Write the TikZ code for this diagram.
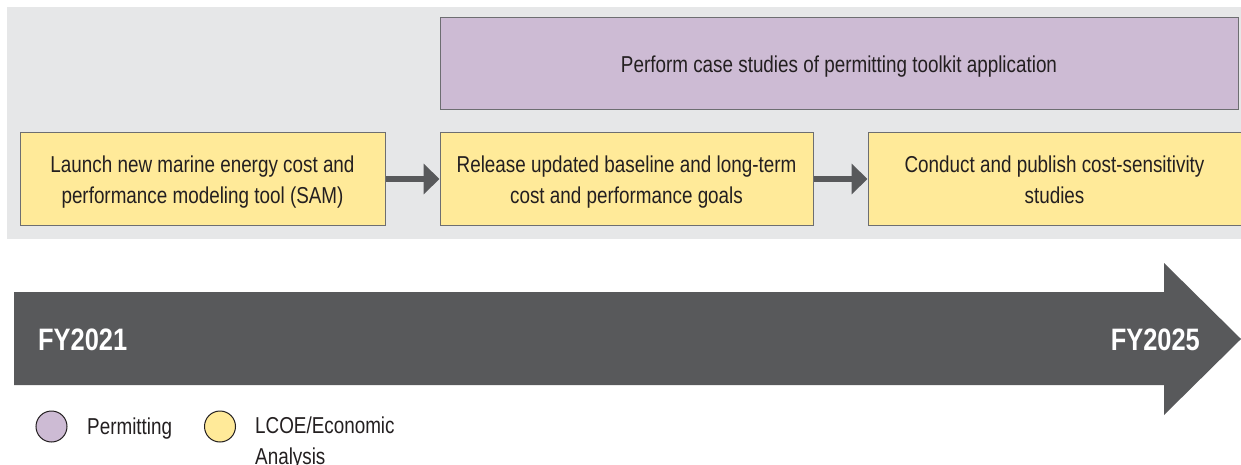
\documentclass[tikz,border=0pt]{standalone}
\usepackage{fontspec}
\setmainfont{Liberation Sans}[FakeStretch=0.82]
\usetikzlibrary{positioning,arrows.meta}

\definecolor{panelgray}{HTML}{E6E7E8}
\definecolor{permitpurple}{HTML}{CDBBD4}
\definecolor{lcoeyellow}{HTML}{FFEA99}
\definecolor{timegray}{HTML}{58595B}
\definecolor{inkgray}{HTML}{231F20}
\definecolor{edgegray}{HTML}{6D6E71}

\tikzset{
  taskbox/.style={draw=edgegray, line width=1pt, text=inkgray, align=flush center,
    minimum height=92pt, inner sep=0pt, font=\fontsize{23}{30}\selectfont,
    execute at begin node={\rule{0pt}{23pt}},
    execute at end node={\rule[-5pt]{0pt}{5pt}}},
  lcoetask/.style={taskbox, fill=lcoeyellow, text width=350pt},
  permittask/.style={taskbox, fill=permitpurple, text width=780pt},
  flow/.style={draw=timegray, line width=6pt, -{Triangle[length=16pt,width=30pt]}},
  yearlabel/.style={text=white, inner sep=0pt, font=\fontsize{31}{31}\selectfont\bfseries},
  legenddot/.style={circle, draw=inkgray, line width=1pt, minimum size=31pt, inner sep=0pt},
  legendtext/.style={text=inkgray, inner sep=0pt, align=left, font=\fontsize{23}{31}\selectfont}
}

\begin{document}
\begin{tikzpicture}[x=1pt,y=-1pt]
  \useasboundingbox (0,0) rectangle (1241,465);

  % Grey panel behind the tasks
  \fill [panelgray] (7,7) rectangle (1241,239);

  % LCOE tasks, left to right
  \node [lcoetask, minimum width=365pt] (launch) at (202.5,179)
    {Launch new marine energy cost and\\performance modeling tool (SAM)};
  \node [lcoetask, minimum width=373pt, right=54pt of launch] (release)
    {Release updated baseline and long-term\\cost and performance goals};
  \node [lcoetask, minimum width=373pt, right=54pt of release] (conduct)
    {Conduct and publish cost-sensitivity\\studies};

  % Permitting task above
  \node [permittask, minimum width=798pt, above right=22pt and 0pt of release.north west] (casestudy)
    {Perform case studies of permitting toolkit application};

  \draw [flow] (launch) -- (release);
  \draw [flow] (release) -- (conduct);

  % The timeline arrow
  \fill [timegray] (14,292) -- (1164,292) -- (1164,263) -- (1241,339)
    -- (1164,415) -- (1164,385) -- (14,385) -- cycle;
  \node [yearlabel, anchor=base west] (start) at (38,350) {FY2021};
  \node [yearlabel, anchor=base east] (finish) at (1200,350) {FY2025};

  % Legend
  \node [legenddot, fill=permitpurple] (permitdot) at (51.5,426.5) {};
  \node [legenddot, fill=lcoeyellow] (lcoedot) at (220,426.5) {};
  \node [legendtext, anchor=base west] (permitkey) at (87,434) {Permitting};
  \node [legendtext, anchor=north west] (lcoekey) at (255,417) {LCOE/Economic\\Analysis};
\end{tikzpicture}
\end{document}
